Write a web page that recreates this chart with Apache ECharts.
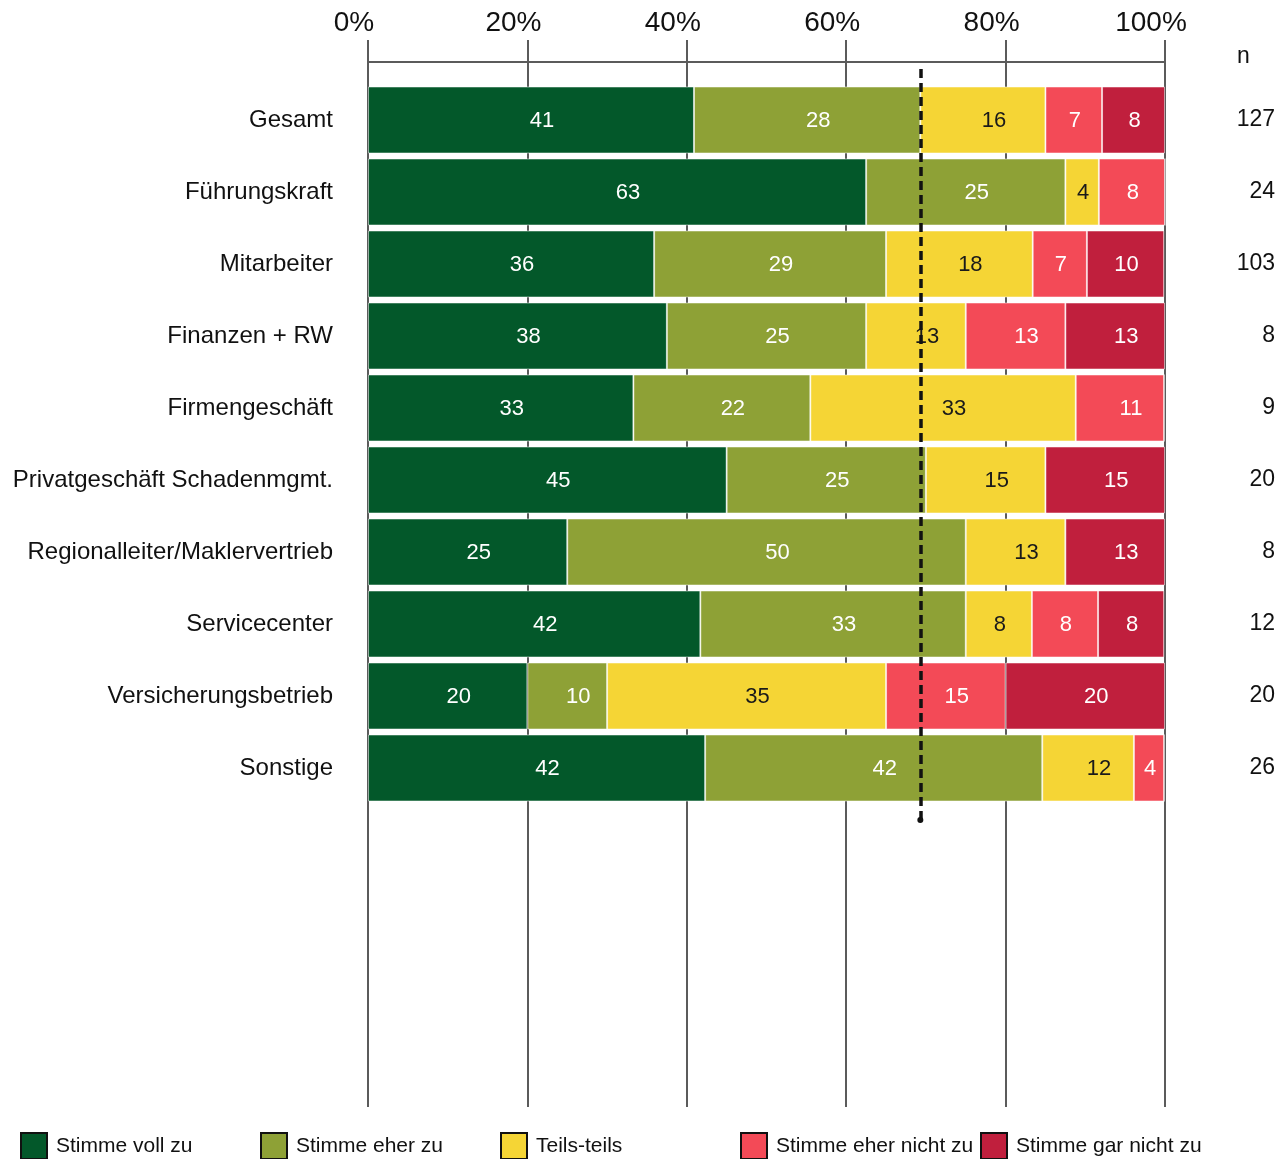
<!DOCTYPE html>
<html>
<head>
<meta charset="utf-8">
<script src="https://cdn.jsdelivr.net/npm/echarts@6/dist/echarts.min.js"></script>
<style>
html, body { margin: 0; padding: 0; background: #fff; }
#chart { width: 1285px; height: 1159px; }
</style>
</head>
<body>
<div id="chart"></div>
<script>
// Anteile in Prozent je Gruppe
var kategorien = ['Gesamt', 'Führungskraft', 'Mitarbeiter', 'Finanzen + RW', 'Firmengeschäft',
    'Privatgeschäft Schadenmgmt.', 'Regionalleiter/Maklervertrieb', 'Servicecenter', 'Versicherungsbetrieb', 'Sonstige']
var nWerte = [127, 24, 103, 8, 9, 20, 8, 12, 20, 26]

var vollZu      = [40.9, 62.5, 35.9, 37.5, 33.3, 45, 25, 41.7, 20, 42.3]
var eherZu      = [28.4, 25.0, 29.1, 25.0, 22.2, 25, 50, 33.3, 10, 42.3]
var teilsTeils  = [15.7, 4.2, 18.4, 12.5, 33.3, 15, 12.5, 8.3, 35, 11.5]
var eherNicht   = [7.1, 8.3, 6.8, 12.5, 11.1, 0, 0, 8.3, 15, 3.8]
var garNicht    = [7.9, 0, 9.7, 12.5, 0, 15, 12.5, 8.3, 20, 0]

var zielLinie = 69.3
var antworten = ['Stimme voll zu', 'Stimme eher zu', 'Teils-teils', 'Stimme eher nicht zu', 'Stimme gar nicht zu']
var farben = ['#03582a', '#8ea136', '#f5d535', '#f34a57', '#c01f3d']
var labelFarben = ['#fff', '#fff', '#1a1a1a', '#fff', '#fff']
var reihen = [vollZu, eherZu, teilsTeils, eherNicht, garNicht]

var font = 'Liberation Sans, Arial, sans-serif'
var grau = '#5b5b5b'

var myChart = echarts.init(document.getElementById('chart'))

var series = reihen.map(function (werte, i) {
    return {
        name: antworten[i],
        type: 'bar',
        stack: 'gesamt',
        xAxisIndex: 1,
        yAxisIndex: 1,
        barWidth: 67,
        itemStyle: { color: farben[i], borderColor: 'rgba(255,255,255,0.5)', borderWidth: 1 },
        data: werte.map(function (v) {
            return {
                value: v,
                label: { offset: v >= 10 ? [11, 1] : [1, 1] }
            }
        }),
        label: {
            show: true,
            position: 'inside',
            color: labelFarben[i],
            fontFamily: font,
            fontSize: 22,
            formatter: function (p) {
                return p.value > 0 ? Math.round(p.value) : ''
            }
        }
    }
})

// gestrichelte Linie
series.push({
    type: 'line',
    xAxisIndex: 2,
    yAxisIndex: 3,
    data: [],
    z: 10,
    markLine: {
        silent: true,
        symbol: ['circle', 'none'],
        symbolSize: 6,
        label: { show: false },
        lineStyle: { color: '#111', width: 3.5, type: [9, 5] },
        data: [{ xAxis: zielLinie }]
    }
})

var legends = antworten.map(function (a, i) {
    return {
        data: [a],
        left: 20 + i * 240,
        top: 1132,
        padding: 0,
        itemWidth: 26,
        itemHeight: 26,
        icon: 'rect',
        itemStyle: { borderColor: '#111', borderWidth: 2 },
        textStyle: { fontFamily: font, fontSize: 21, color: '#111', padding: [0, 0, 0, 4] }
    }
})

myChart.setOption({
    animation: false,
    grid: [
        { left: 368, right: 120, top: 40, bottom: 52 },
        { left: 368, right: 120, top: 84, height: 720 },
        { left: 368, right: 120, top: 68, bottom: 339 }
    ],
    legend: legends,
    graphic: [{
        type: 'text',
        left: 1237,
        top: 45,
        style: { text: 'n', fontFamily: font, fontSize: 23, fill: '#111' }
    }],
    xAxis: [
        {
            gridIndex: 0, type: 'value', min: 0, max: 100, interval: 20,
            axisLabel: { show: false }, axisLine: { show: false }, axisTick: { show: false },
            splitLine: { show: true, lineStyle: { color: grau, width: 2 } }
        },
        {
            gridIndex: 1, type: 'value', position: 'top', offset: 22, min: 0, max: 100, interval: 20,
            axisLine: { show: true, lineStyle: { color: grau, width: 2 } },
            axisTick: { show: false },
            splitLine: { show: false },
            axisLabel: { formatter: '{value}%', fontFamily: font, fontSize: 28, color: '#111', margin: 25, padding: [0, 28, 0, 0] }
        },
        {
            gridIndex: 2, type: 'value', min: 0, max: 100, show: false
        }
    ],
    yAxis: [
        { gridIndex: 0, type: 'value', show: false },
        {
            gridIndex: 1, type: 'category', inverse: true, data: kategorien,
            axisLine: { show: false }, axisTick: { show: false },
            axisLabel: { fontFamily: font, fontSize: 24, color: '#111', margin: 35, padding: [0, 0, 16, 0] }
        },
        {
            gridIndex: 1, type: 'category', inverse: true, position: 'right', data: nWerte,
            axisLine: { show: false }, axisTick: { show: false },
            axisLabel: { fontFamily: font, fontSize: 23, color: '#111', margin: 110, align: 'right', padding: [0, 0, 16, 0] }
        },
        { gridIndex: 2, type: 'value', min: 0, max: 1, show: false }
    ],
    series: series
})
</script>
</body>
</html>
